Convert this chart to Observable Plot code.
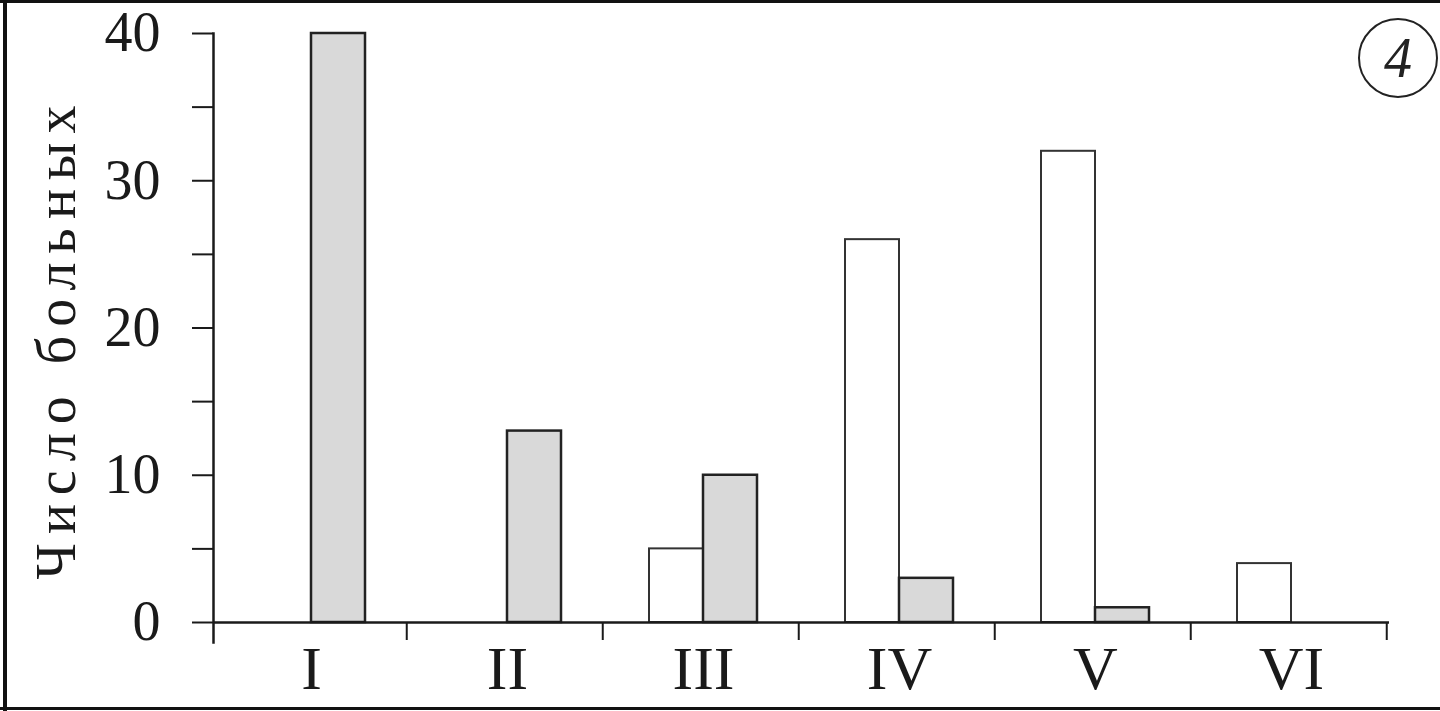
<!DOCTYPE html>
<html>
<head>
<meta charset="utf-8">
<script src="https://cdn.jsdelivr.net/npm/d3@7"></script>
<script src="https://cdn.jsdelivr.net/npm/@observablehq/plot@0.6"></script>
<style>
  html, body { margin: 0; padding: 0; background: #fff; }
  #wrap { position: relative; width: 1440px; height: 711px; overflow: hidden; background: #fff; }
  #chart { position: absolute; left: 0; top: 0; }
  .border { position: absolute; background: #111; }
  #badge {
    position: absolute; left: 1358px; top: 18px; width: 76px; height: 76px;
    border: 2.5px solid #222; border-radius: 50%;
    font-family: "Liberation Serif", serif; font-style: italic; font-size: 56px;
    color: #222; display: flex; align-items: center; justify-content: center; line-height: 1;
  }
  svg [aria-label="y-axis label"] { translate: 0px 10px; }
  svg [aria-label="y-axis label"] text { letter-spacing: 9px; }
</style>
</head>
<body>
<div id="wrap">
  <div id="chart"></div>
  <div class="border" style="left:0;top:0;width:1440px;height:3px"></div>
  <div class="border" style="left:3px;top:0;width:4px;height:711px"></div>
  <div class="border" style="left:0;top:707px;width:1440px;height:3px"></div>
  <div id="badge">4</div>
</div>
<script>
// Data
const categories = ["I", "II", "III", "IV", "V", "VI"];
const seriesNames = ["white", "gray"];
const whiteValues = [0, 0, 5, 26, 32, 4];
const grayValues = [40, 13, 10, 3, 1, 0];
const yTickLabels = [0, 10, 20, 30, 40];
const yMinorTicks = [0, 5, 10, 15, 20, 25, 30, 35, 40];
const yLabel = "Число больных";

const rows = categories.flatMap((c, i) => [
  {cat: c, series: "white", value: whiteValues[i]},
  {cat: c, series: "gray", value: grayValues[i]}
]);

const W = 1440, H = 711;
const mL = 211, mR = 50, mT = 33, mB = 89;
const facetStep = (W - mL - mR) / categories.length;
const font = "Liberation Serif, Times New Roman, serif";

const chart = Plot.plot({
  width: W,
  height: H,
  marginLeft: mL,
  marginRight: mR,
  marginTop: mT,
  marginBottom: mB,
  style: {fontFamily: font, color: "#1a1a1a", background: "transparent"},
  fx: {domain: categories, padding: 0},
  x: {domain: seriesNames, paddingInner: 0, paddingOuter: 0.79, axis: null},
  y: {domain: [0, 40], axis: null},
  marks: [
    Plot.barY(rows.filter(d => d.series === "white" && d.value > 0), {
      fx: "cat", x: "series", y: "value",
      fill: "white", stroke: "#333", strokeWidth: 2
    }),
    Plot.barY(rows.filter(d => d.series === "gray" && d.value > 0), {
      fx: "cat", x: "series", y: "value",
      fill: "#d9d9d9", stroke: "#222", strokeWidth: 2.5
    }),
    Plot.ruleY([0], {stroke: "#1a1a1a", strokeWidth: 2.5}),
    Plot.frame({anchor: "left", facetAnchor: "left", stroke: "#1a1a1a", strokeWidth: 2.5, insetBottom: -20}),
    Plot.axisY({ticks: yMinorTicks, text: null, tickSize: 21, strokeWidth: 2, label: null}),
    Plot.axisY({
      ticks: yTickLabels, tickSize: 0, tickPadding: 53, fontSize: 56,
      label: yLabel, labelAnchor: "center", labelOffset: 178, labelArrow: "none"
    }),
    Plot.axisFx({anchor: "bottom", tickSize: 0, tickPadding: 22, fontSize: 62, label: null}),
    Plot.axisFx({anchor: "bottom", text: null, tickSize: 18, strokeWidth: 2, dx: facetStep / 2 - 3, label: null})
  ]
});

document.getElementById("chart").append(chart);
</script>
</body>
</html>
